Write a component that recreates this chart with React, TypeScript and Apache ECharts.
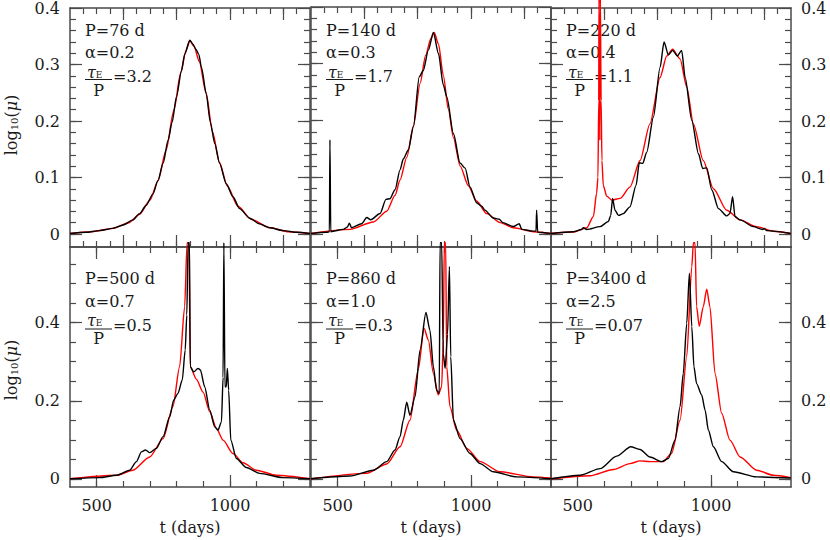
import React, { useEffect, useRef } from "react";
import * as echarts from "echarts";

type Pt = [number, number];

const T_MIN = 400;
const T_MAX = 1300;

const periods = ["P=76 d", "P=140 d", "P=220 d", "P=500 d", "P=860 d", "P=3400 d"];
const alphas = ["α=0.2", "α=0.3", "α=0.4", "α=0.7", "α=1.0", "α=2.5"];
const ratios = ["=3.2", "=1.7", "=1.1", "=0.5", "=0.3", "=0.07"];

const xMajorTop = [600, 800, 1000, 1200];
const xMinorTop = [450, 500, 550, 600, 650, 700, 750, 800, 850, 900, 950, 1000, 1050, 1100, 1150, 1200, 1250];
const xMajorBottom = [500, 1000];
const xMinorBottom = [500, 600, 700, 800, 900, 1000, 1100, 1200];
const yMajorTop = [0, 0.1, 0.2, 0.3, 0.4];
const yMinorTop = [0, 0.02, 0.04, 0.06, 0.08, 0.1, 0.12, 0.14, 0.16, 0.18, 0.2, 0.22, 0.24, 0.26, 0.28, 0.3, 0.32, 0.34, 0.36, 0.38];
const yMajorBottom = [0, 0.2, 0.4];
const yMinorBottom = [0, 0.05, 0.1, 0.15, 0.2, 0.25, 0.3, 0.35, 0.4, 0.45, 0.5, 0.55];

// P = 76 d
const p76Black: Pt[] = [[400,0.001],[460,0.003],[511,0.006],[560,0.010],[600,0.016],[636,0.025],[661,0.036],[686,0.051],[711,0.071],[730,0.095],[749,0.125],[768,0.166],[783,0.198],[799,0.242],[818,0.289],[830,0.318],[849,0.343],[861,0.336],[872,0.327],[883,0.318],[893,0.295],[911,0.248],[926,0.198],[943,0.160],[961,0.125],[986,0.089],[1011,0.066],[1036,0.045],[1074,0.028],[1110,0.018],[1150,0.011],[1200,0.006],[1250,0.003],[1300,0.001]];
const p76Red: Pt[] = [[400,0.001],[480,0.004],[560,0.010],[620,0.020],[661,0.035],[700,0.060],[730,0.094],[760,0.148],[790,0.220],[815,0.285],[835,0.325],[850,0.342],[865,0.332],[885,0.305],[910,0.250],[935,0.180],[960,0.127],[990,0.085],[1030,0.049],[1080,0.026],[1150,0.011],[1220,0.004],[1300,0.001]];

// P = 140 d
const p140Black: Pt[] = [[400,0.001],[459,0.003],[469,0.004],[471,0.166],[474,0.004],[521,0.008],[536,0.012],[544,0.019],[552,0.011],[590,0.018],[609,0.029],[624,0.025],[659,0.036],[681,0.061],[696,0.062],[715,0.078],[734,0.113],[746,0.132],[765,0.148],[784,0.189],[806,0.277],[821,0.288],[840,0.324],[859,0.355],[878,0.318],[896,0.263],[909,0.242],[934,0.177],[959,0.125],[978,0.116],[996,0.083],[1021,0.055],[1040,0.049],[1052,0.042],[1084,0.028],[1106,0.026],[1119,0.020],[1159,0.013],[1181,0.018],[1190,0.008],[1234,0.005],[1244,0.005],[1246,0.042],[1250,0.003],[1299,0.001]];
const p140Red: Pt[] = [[400,0.001],[546,0.008],[634,0.021],[684,0.040],[715,0.068],[734,0.095],[759,0.135],[784,0.190],[809,0.265],[830,0.315],[850,0.345],[862,0.355],[878,0.335],[896,0.280],[915,0.220],[934,0.170],[959,0.120],[990,0.085],[1021,0.058],[1059,0.036],[1109,0.020],[1159,0.011],[1234,0.004],[1299,0.001]];

// P = 220 d
const p220Black: Pt[] = [[400,0.001],[484,0.004],[515,0.008],[521,0.011],[534,0.008],[584,0.013],[615,0.022],[624,0.033],[631,0.063],[640,0.042],[653,0.033],[671,0.036],[696,0.048],[719,0.086],[731,0.126],[744,0.125],[759,0.145],[784,0.207],[809,0.295],[824,0.340],[840,0.317],[856,0.325],[874,0.315],[890,0.325],[903,0.277],[928,0.201],[953,0.142],[969,0.116],[984,0.117],[1003,0.078],[1028,0.045],[1059,0.032],[1071,0.036],[1081,0.066],[1090,0.031],[1109,0.025],[1159,0.013],[1194,0.008],[1199,0.010],[1209,0.006],[1299,0.001]];
const p220Red: Pt[] = [[400,0.001],[484,0.0035],[534,0.011],[559,0.031],[571,0.072],[576,0.100],[579,0.236],[580,0.420],[583,0.166],[585,0.420],[588,0.236],[591,0.130],[596,0.086],[609,0.067],[628,0.060],[659,0.063],[696,0.083],[734,0.130],[771,0.195],[809,0.277],[834,0.315],[856,0.327],[884,0.310],[909,0.260],[934,0.195],[971,0.130],[1009,0.080],[1059,0.042],[1109,0.025],[1171,0.013],[1234,0.005],[1299,0.001]];

// P = 500 d
const p500Black: Pt[] = [[400,0],[511,0.003],[574,0.009],[624,0.022],[649,0.044],[668,0.069],[683,0.074],[699,0.067],[724,0.078],[749,0.108],[774,0.159],[789,0.202],[805,0.219],[821,0.253],[832,0.330],[838,0.420],[843,0.605],[848,0.605],[851,0.287],[864,0.274],[880,0.283],[889,0.279],[905,0.236],[924,0.176],[943,0.133],[955,0.125],[968,0.146],[974,0.260],[977,0.605],[981,0.236],[986,0.236],[990,0.283],[995,0.227],[1003,0.099],[1024,0.052],[1061,0.029],[1111,0.014],[1199,0.003],[1300,0]];
const p500Red: Pt[] = [[400,0],[574,0.009],[636,0.022],[699,0.056],[749,0.103],[786,0.185],[811,0.287],[830,0.441],[839,0.605],[846,0.605],[851,0.287],[874,0.255],[899,0.222],[924,0.172],[949,0.129],[974,0.099],[1011,0.065],[1049,0.041],[1099,0.022],[1174,0.009],[1300,0]];

// P = 860 d
const p860Black: Pt[] = [[400,0],[546,0.007],[634,0.022],[684,0.044],[715,0.074],[734,0.108],[746,0.150],[759,0.196],[771,0.163],[790,0.210],[809,0.330],[831,0.426],[846,0.381],[859,0.287],[871,0.227],[881,0.219],[884,0.605],[890,0.605],[896,0.320],[903,0.283],[912,0.370],[919,0.544],[924,0.313],[934,0.150],[959,0.103],[996,0.065],[1034,0.039],[1084,0.018],[1171,0.005],[1299,0]];
const p860Red: Pt[] = [[400,0],[609,0.014],[684,0.038],[734,0.082],[771,0.150],[802,0.279],[824,0.385],[840,0.356],[859,0.270],[877,0.215],[890,0.236],[896,0.356],[900,0.605],[905,0.605],[909,0.287],[921,0.185],[946,0.125],[984,0.078],[1034,0.044],[1109,0.018],[1234,0.005],[1299,0.002]];

// P = 3400 d
const p3400Black: Pt[] = [[400,0],[509,0.009],[584,0.026],[646,0.058],[699,0.082],[734,0.075],[771,0.056],[815,0.044],[840,0.052],[865,0.099],[884,0.185],[896,0.270],[909,0.398],[919,0.527],[928,0.390],[936,0.287],[946,0.244],[965,0.215],[978,0.176],[990,0.125],[1009,0.082],[1040,0.044],[1084,0.018],[1171,0.005],[1299,0.002]];
const p3400Red: Pt[] = [[400,0],[546,0.008],[634,0.024],[696,0.039],[734,0.046],[771,0.044],[821,0.044],[852,0.065],[884,0.150],[909,0.313],[928,0.544],[934,0.605],[940,0.605],[946,0.441],[956,0.391],[971,0.441],[984,0.486],[996,0.441],[1015,0.270],[1040,0.168],[1071,0.099],[1109,0.056],[1171,0.022],[1234,0.009],[1299,0.003]];

const blackSeries = [p76Black, p140Black, p220Black, p500Black, p860Black, p3400Black];
const redSeries = [p76Red, p140Red, p220Red, p500Red, p860Red, p3400Red];

const FONT = "DejaVu Serif";
const INK = "#1a1a1a";
const FRAME = "#4a4a4a";
const GRID_LEFT = [70, 311, 551];
const GRID_TOP = [7, 247];
const GRID_W = 240;
const GRID_H = 240;
const Y_RANGE = [[-0.023, 0.4], [-0.021, 0.594]];

function tickAxis(kind: "x" | "y", grid: number, position: string, row: number, ticks: number[], len: number, labels: number[] | null, drawLine: boolean) {
  const isX = kind === "x";
  return {
    type: "value",
    gridIndex: grid,
    position,
    min: isX ? T_MIN : Y_RANGE[row][0],
    max: isX ? T_MAX : Y_RANGE[row][1],
    axisLine: { show: drawLine, onZero: false, lineStyle: { color: FRAME, width: 1.5 } },
    splitLine: { show: false },
    axisTick: { show: true, inside: true, length: len, customValues: ticks, lineStyle: { color: FRAME, width: 1.2 } },
    axisLabel: labels
      ? { show: true, customValues: labels, margin: 10, fontFamily: FONT, fontSize: 16, color: INK, formatter: (v: number) => String(v) }
      : { show: false },
  };
}

export default function App() {
  const ref = useRef<HTMLDivElement>(null);
  useEffect(() => {
    if (!ref.current) return;
    const chart = echarts.init(ref.current, undefined, { renderer: "svg" });
    const grids: any[] = [];
    const xAxes: any[] = [];
    const yAxes: any[] = [];
    const series: any[] = [];
    const graphics: any[] = [];
    for (let p = 0; p < 6; p++) {
      const r = Math.floor(p / 3);
      const c = p % 3;
      grids.push({ left: GRID_LEFT[c], top: GRID_TOP[r], width: GRID_W, height: GRID_H, show: false });
      const xMaj = r === 0 ? xMajorTop : xMajorBottom;
      const xMin = r === 0 ? xMinorTop : xMinorBottom;
      const yMaj = r === 0 ? yMajorTop : yMajorBottom;
      const yMin = r === 0 ? yMinorTop : yMinorBottom;
      xAxes.push(tickAxis("x", p, "bottom", r, xMin, 6, null, true));
      xAxes.push(tickAxis("x", p, "bottom", r, xMaj, 12, r === 1 ? xMajorBottom : null, false));
      xAxes.push(tickAxis("x", p, "top", r, xMin, 6, null, true));
      xAxes.push(tickAxis("x", p, "top", r, xMaj, 12, null, false));
      yAxes.push(tickAxis("y", p, "left", r, yMin, 6, null, true));
      yAxes.push(tickAxis("y", p, "left", r, yMaj, 12, c === 0 ? yMaj : null, false));
      yAxes.push(tickAxis("y", p, "right", r, yMin, 6, null, true));
      yAxes.push(tickAxis("y", p, "right", r, yMaj, 12, c === 2 ? yMaj : null, false));
      const common = { type: "line", xAxisIndex: p * 4, yAxisIndex: p * 4, showSymbol: false, symbol: "none", smooth: 0.25, smoothMonotone: "x", clip: false, silent: true };
      series.push({ ...common, name: "red" + p, data: redSeries[p], lineStyle: { color: "#ff0000", width: 1.4 }, z: 2 });
      series.push({ ...common, name: "black" + p, data: blackSeries[p], lineStyle: { color: "#000000", width: 1.4 }, z: 3 });

      // annotations
      const x0 = GRID_LEFT[c] + 15;
      const top = GRID_TOP[r];
      const off = r === 0 ? [23.5, 45.5, 65, 72.5, 83, 69] : [31.5, 54, 73.5, 82, 91, 78];
      const base = { fontFamily: FONT, fontSize: 16, fill: INK, verticalAlign: "middle" };
      graphics.push({ type: "text", x: x0, y: top + off[0], style: { ...base, text: periods[p], align: "left" } });
      graphics.push({ type: "text", x: x0, y: top + off[1], style: { ...base, text: alphas[p], align: "left" } });
      graphics.push({
        type: "text", x: x0 + 2, y: top + off[2],
        style: {
          ...base, text: "{t|τ}{e|E}", align: "left",
          rich: {
            t: { fontFamily: FONT, fontSize: 16, fontStyle: "italic", fill: INK, color: INK, lineHeight: 14 },
            e: { fontFamily: FONT, fontSize: 9, fill: INK, color: INK, verticalAlign: "bottom", lineHeight: 12 },
          },
        },
      });
      graphics.push({ type: "line", shape: { x1: x0, y1: top + off[3], x2: x0 + 27, y2: top + off[3] }, style: { stroke: INK, lineWidth: 1 } });
      graphics.push({ type: "text", x: x0 + 13.5, y: top + off[4], style: { ...base, text: "P", align: "center" } });
      graphics.push({ type: "text", x: x0 + 28, y: top + off[5], style: { ...base, text: ratios[p], align: "left" } });
      if (r === 1) {
        graphics.push({ type: "text", x: GRID_LEFT[c] + GRID_W / 2, y: 527.5, style: { ...base, text: "t (days)", align: "center" } });
      }
    }
    const richTitle = {
      n: { fontFamily: FONT, fontSize: 16, fill: INK, color: INK },
      i: { fontFamily: FONT, fontSize: 16, fontStyle: "italic", fill: INK, color: INK },
      s: { fontFamily: FONT, fontSize: 10, verticalAlign: "bottom", fill: INK, color: INK },
    };
    [125, 370].forEach((cy) => {
      graphics.push({
        type: "text",
        x: 11,
        y: cy,
        rotation: Math.PI / 2,
        style: { text: "{n|log}{s|10}{n|(}{i|μ}{n|)}", rich: richTitle, align: "center", verticalAlign: "middle", fontFamily: FONT, fontSize: 16, fill: INK },
      });
    });

    chart.setOption({
      animation: false,
      backgroundColor: "#ffffff",
      grid: grids,
      xAxis: xAxes,
      yAxis: yAxes,
      series,
      graphic: graphics,
    });
    return () => chart.dispose();
  }, []);
  return <div ref={ref} style={{ position: "absolute", left: 0, top: 0, width: 830, height: 540 }} />;
}
